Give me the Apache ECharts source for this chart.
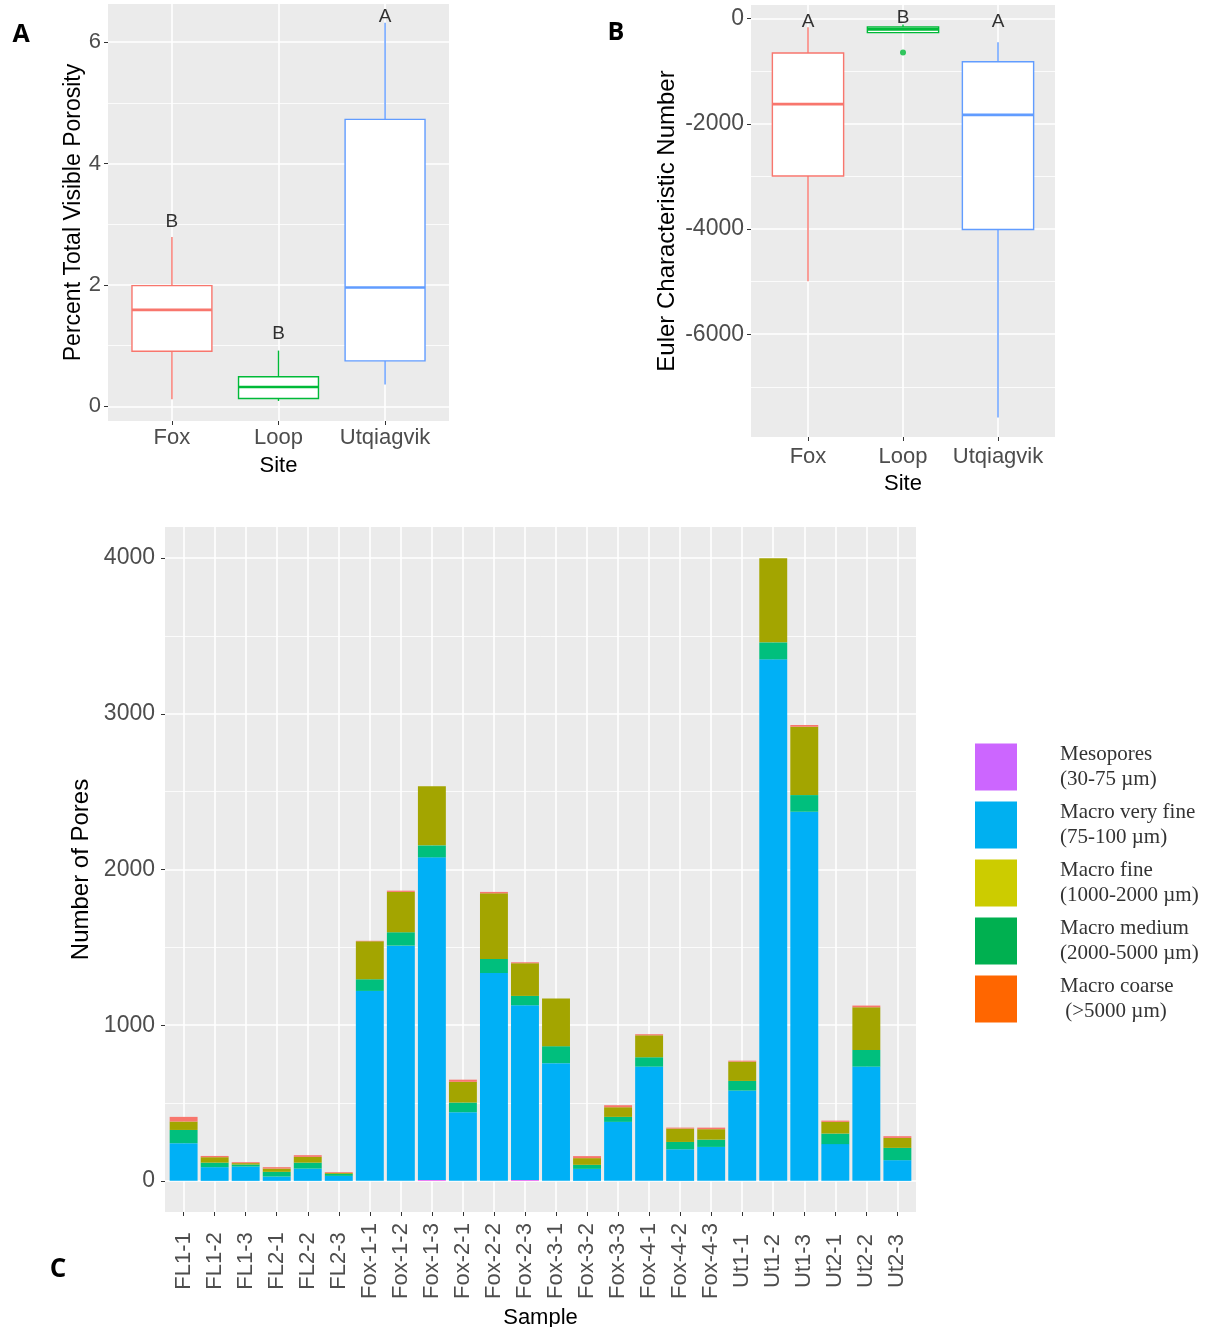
<!DOCTYPE html>
<html>
<head>
<meta charset="utf-8">
<title>Porosity, Euler number and pore counts</title>
<script src="https://cdn.jsdelivr.net/npm/echarts@6/dist/echarts.min.js"></script>
<style>
  html, body { margin: 0; background: #fff; }
  #chart { width: 1215px; height: 1327px; }
</style>
</head>
<body>
<div id="chart"></div>
<script>
// ---- panel A / B: box plots per site ----
const sites = ["Fox", "Loop", "Utqiagvik"];
const siteColors = ["#F8766D", "#00BA38", "#619CFF"];

// [min, q1, median, q3, max]
const porosityBoxes = [
  [0.12, 0.91, 1.59, 1.99, 2.79],
  [0.09, 0.13, 0.32, 0.49, 0.92],
  [0.36, 0.75, 1.96, 4.73, 6.32],
];
const porosityLetters = [["B", 3.05], ["B", 1.19], ["A", 6.42]];
const porosityTicks = [0, 2, 4, 6];
const porosityMinor = [1, 3, 5];

const eulerBoxes = [
  [-4995, -2993, -1626, -654, -166],
  [-275, -267, -205, -158, -114],
  [-7582, -4010, -1830, -820, -451],
];
const eulerOutliers = [[2, -642]];
const eulerLetters = [["A", -57], ["B", 25], ["A", -57]];
const eulerTicks = [0, -2000, -4000, -6000];
const eulerMinor = [-1000, -3000, -5000, -7000];

// ---- panel C: stacked pore counts per sample ----
const samples = ["FL1-1", "FL1-2", "FL1-3", "FL2-1", "FL2-2", "FL2-3",
  "Fox-1-1", "Fox-1-2", "Fox-1-3", "Fox-2-1", "Fox-2-2", "Fox-2-3",
  "Fox-3-1", "Fox-3-2", "Fox-3-3", "Fox-4-1", "Fox-4-2", "Fox-4-3",
  "Ut1-1", "Ut1-2", "Ut1-3", "Ut2-1", "Ut2-2", "Ut2-3"];
const mesopores = [0, 0, 0, 0, 0, 0, 0, 0, 6, 0, 0, 6, 0, 0, 0, 0, 0, 0, 0, 0, 0, 0, 0, 0];
const macroVeryFine = [242, 88, 92, 28, 79, 32, 1220, 1511, 2072, 441, 1335, 1122, 756, 77, 379, 734, 203, 218, 580, 3350, 2371, 236, 734, 133];
const macroMedium = [85, 29, 13, 30, 38, 13, 75, 86, 77, 62, 90, 60, 109, 26, 32, 60, 47, 47, 62, 109, 107, 68, 107, 79];
const macroFine = [54, 35, 9, 21, 37, 6, 244, 259, 379, 133, 422, 210, 306, 43, 62, 141, 86, 67, 124, 541, 439, 75, 274, 64];
const macroCoarse = [30, 8, 6, 9, 11, 5, 3, 8, 0, 14, 9, 6, 0, 13, 13, 7, 6, 10, 6, 0, 11, 8, 11, 11];
const poreTicks = [0, 1000, 2000, 3000, 4000];
const poreMinor = [500, 1500, 2500, 3500];

const legendOrder = ["Mesopores", "Macro very fine", "Macro fine", "Macro medium", "Macro coarse"];
const legendText = {
  "Mesopores": "Mesopores\n(30-75 µm)",
  "Macro very fine": "Macro very fine\n(75-100 µm)",
  "Macro fine": "Macro fine\n(1000-2000 µm)",
  "Macro medium": "Macro medium\n(2000-5000 µm)",
  "Macro coarse": "Macro coarse\n (>5000 µm)",
};
const legendColors = ["#CC66FF", "#00B0F0", "#CCCC00", "#00B050", "#FF6600"];

const FONT = "'Liberation Sans', Arial, sans-serif";
const tickText = "#4D4D4D";
const tickLine = "#333333";
const panelBg = "#EBEBEB";
const sampleIdx = samples.map((s, i) => i);

// panel C: ggplot pads a discrete axis by 0.6 of a step on each side,
// so the bar grid sits inside the background panel
const panelC = { left: 165, top: 527, width: 751, height: 685 };
const stepC = panelC.width / (samples.length - 1 + 1.2);

function boxRenderer(params, api) {
  const x = api.value(0);
  const c = siteColors[params.dataIndex];
  const lo = api.coord([x, api.value(1)]);
  const q1 = api.coord([x, api.value(2)]);
  const md = api.coord([x, api.value(3)]);
  const q3 = api.coord([x, api.value(4)]);
  const hi = api.coord([x, api.value(5)]);
  const w = api.size([0.75, 0])[0];
  const thin = { stroke: c, lineWidth: 1.4 };
  return {
    type: "group",
    children: [
      { type: "line", shape: { x1: lo[0], y1: lo[1], x2: q1[0], y2: q1[1] }, style: thin },
      { type: "line", shape: { x1: q3[0], y1: q3[1], x2: hi[0], y2: hi[1] }, style: thin },
      { type: "rect", shape: { x: q1[0] - w / 2, y: q3[1], width: w, height: q1[1] - q3[1] },
        style: { fill: "#fff", stroke: c, lineWidth: 1.4 } },
      { type: "line", shape: { x1: md[0] - w / 2, y1: md[1], x2: md[0] + w / 2, y2: md[1] },
        style: { stroke: c, lineWidth: 2.6 } },
    ],
  };
}

function siteXAxis(gridIndex, nameGap, margin) {
  return {
    type: "value", gridIndex, min: 0.4, max: 3.6,
    axisLine: { show: false, onZero: false },
    axisTick: { customValues: [1, 2, 3], length: 4, lineStyle: { color: tickLine } },
    axisLabel: { customValues: [1, 2, 3], formatter: (v) => sites[Math.round(v) - 1],
      fontFamily: FONT, fontSize: 22, color: tickText, margin },
    splitLine: { show: true, lineStyle: { color: "#fff", width: 1.6 } },
    name: "Site", nameLocation: "middle", nameGap,
    nameTextStyle: { fontFamily: FONT, fontSize: 22, color: "#000" },
  };
}

function majorY(gridIndex, min, max, ticks, name, nameGap, fontSize, margin) {
  return {
    type: "value", gridIndex, min, max,
    axisLine: { show: false, onZero: false },
    axisTick: { show: true, customValues: ticks, length: 4, lineStyle: { color: tickLine } },
    axisLabel: { customValues: ticks, formatter: (v) => String(v),
      fontFamily: FONT, fontSize, color: tickText, margin },
    splitLine: { show: true, lineStyle: { color: "#fff", width: 1.6 } },
    name, nameLocation: "middle", nameGap,
    nameTextStyle: { fontFamily: FONT, fontSize: fontSize + 1, color: "#000" },
  };
}

function minorY(gridIndex, min, max, ticks) {
  return {
    type: "value", gridIndex, min, max, position: "left",
    axisLine: { show: false, onZero: false },
    axisTick: { show: false, customValues: ticks },
    axisLabel: { show: false },
    splitLine: { show: true, lineStyle: { color: "#fff", width: 0.8 } },
  };
}

function letterSeries(xi, yi, letters) {
  return {
    type: "scatter", xAxisIndex: xi, yAxisIndex: yi, symbolSize: 1, silent: true,
    itemStyle: { color: "transparent" },
    label: { show: true, position: "inside", formatter: "{b}", color: "#000",
      fontFamily: FONT, fontSize: 19 },
    data: letters.map((l, i) => ({ name: l[0], value: [i + 1, l[1]] })),
  };
}

function stackBar(name, data, color) {
  return {
    type: "bar", name, stack: "pores", xAxisIndex: 3, yAxisIndex: 6,
    barCategoryGap: "10%", itemStyle: { color }, data,
  };
}

const chart = echarts.init(document.getElementById("chart"));

const gridBase = { outerBoundsMode: "none", containLabel: false, borderWidth: 0 };

chart.setOption({
  animation: false,
  backgroundColor: "#fff",
  grid: [
    Object.assign({ left: 108, top: 4, width: 341, height: 417, show: true, backgroundColor: panelBg }, gridBase),
    Object.assign({ left: 751, top: 5, width: 304, height: 432, show: true, backgroundColor: panelBg }, gridBase),
    Object.assign({ show: true, backgroundColor: panelBg }, panelC, gridBase),
    Object.assign({ left: panelC.left + 0.1 * stepC, top: panelC.top,
      width: samples.length * stepC, height: panelC.height }, gridBase),
  ],
  xAxis: [
    siteXAxis(0, 34, 6),
    siteXAxis(1, 36, 9),
    {
      type: "value", gridIndex: 2, min: -0.6, max: samples.length - 0.4,
      axisLine: { show: false, onZero: false },
      axisTick: { customValues: sampleIdx, length: 4, lineStyle: { color: tickLine } },
      axisLabel: { customValues: sampleIdx, formatter: (v) => samples[Math.round(v)],
        rotate: 90, align: "center", verticalAlign: "middle",
        fontFamily: FONT, fontSize: 22, color: tickText, margin: 49 },
      splitLine: { show: true, lineStyle: { color: "#fff", width: 1.6 } },
      name: "Sample", nameLocation: "middle", nameGap: 95,
      nameTextStyle: { fontFamily: FONT, fontSize: 22, color: "#000" },
    },
    {
      type: "category", gridIndex: 3, data: samples,
      axisLine: { show: false, onZero: false }, axisTick: { show: false }, axisLabel: { show: false },
      splitLine: { show: false },
    },
  ],
  yAxis: [
    majorY(0, -0.24, 6.63, porosityTicks, "Percent Total Visible Porosity", 20, 22, 7),
    minorY(0, -0.24, 6.63, porosityMinor),
    majorY(1, -7955, 259, eulerTicks, "Euler Characteristic Number", 72, 23, 7),
    minorY(1, -7955, 259, eulerMinor),
    majorY(2, -200, 4200, poreTicks, "Number of Pores", 66, 23, 10),
    minorY(2, -200, 4200, poreMinor),
    {
      type: "value", gridIndex: 3, min: -200, max: 4200,
      axisLine: { show: false, onZero: false }, axisTick: { show: false }, axisLabel: { show: false },
      splitLine: { show: false },
    },
  ],
  legend: {
    orient: "vertical", left: 970, top: 737,
    itemWidth: 42, itemHeight: 47, itemGap: 8, icon: "rect", selectedMode: false,
    data: legendOrder.map((name, i) => ({ name, itemStyle: { color: legendColors[i] } })),
    formatter: (name) => legendText[name],
    textStyle: { fontFamily: "'Liberation Serif', 'Times New Roman', serif", fontSize: 21,
      color: "#333", lineHeight: 25, padding: [0, 0, 0, 38] },
  },
  graphic: [
    { type: "text", x: 21, y: 35, style: { text: "A", align: "center", verticalAlign: "middle",
      fontFamily: "'Open Sans', sans-serif", fontWeight: "bold", fontSize: 25, fill: "#000" } },
    { type: "text", x: 616, y: 33, style: { text: "B", align: "center", verticalAlign: "middle",
      fontFamily: "'Open Sans', sans-serif", fontWeight: "bold", fontSize: 25, fill: "#000" } },
    { type: "text", x: 58, y: 1270, style: { text: "C", align: "center", verticalAlign: "middle",
      fontFamily: "'Open Sans', sans-serif", fontWeight: "bold", fontSize: 26, fill: "#000" } },
  ],
  series: [
    {
      type: "custom", xAxisIndex: 0, yAxisIndex: 0, renderItem: boxRenderer,
      encode: { x: 0, y: [1, 2, 3, 4, 5] },
      data: porosityBoxes.map((b, i) => [i + 1, ...b]),
    },
    letterSeries(0, 0, porosityLetters),
    {
      type: "custom", xAxisIndex: 1, yAxisIndex: 2, renderItem: boxRenderer,
      encode: { x: 0, y: [1, 2, 3, 4, 5] },
      data: eulerBoxes.map((b, i) => [i + 1, ...b]),
    },
    {
      type: "scatter", xAxisIndex: 1, yAxisIndex: 2, symbolSize: 6,
      itemStyle: { color: siteColors[1] }, data: eulerOutliers,
    },
    letterSeries(1, 2, eulerLetters),
    stackBar("Mesopores", mesopores, "#E76BF3"),
    stackBar("Macro very fine", macroVeryFine, "#00B0F6"),
    stackBar("Macro medium", macroMedium, "#00BF7D"),
    stackBar("Macro fine", macroFine, "#A3A500"),
    stackBar("Macro coarse", macroCoarse, "#F8766D"),
  ],
});
</script>
</body>
</html>
